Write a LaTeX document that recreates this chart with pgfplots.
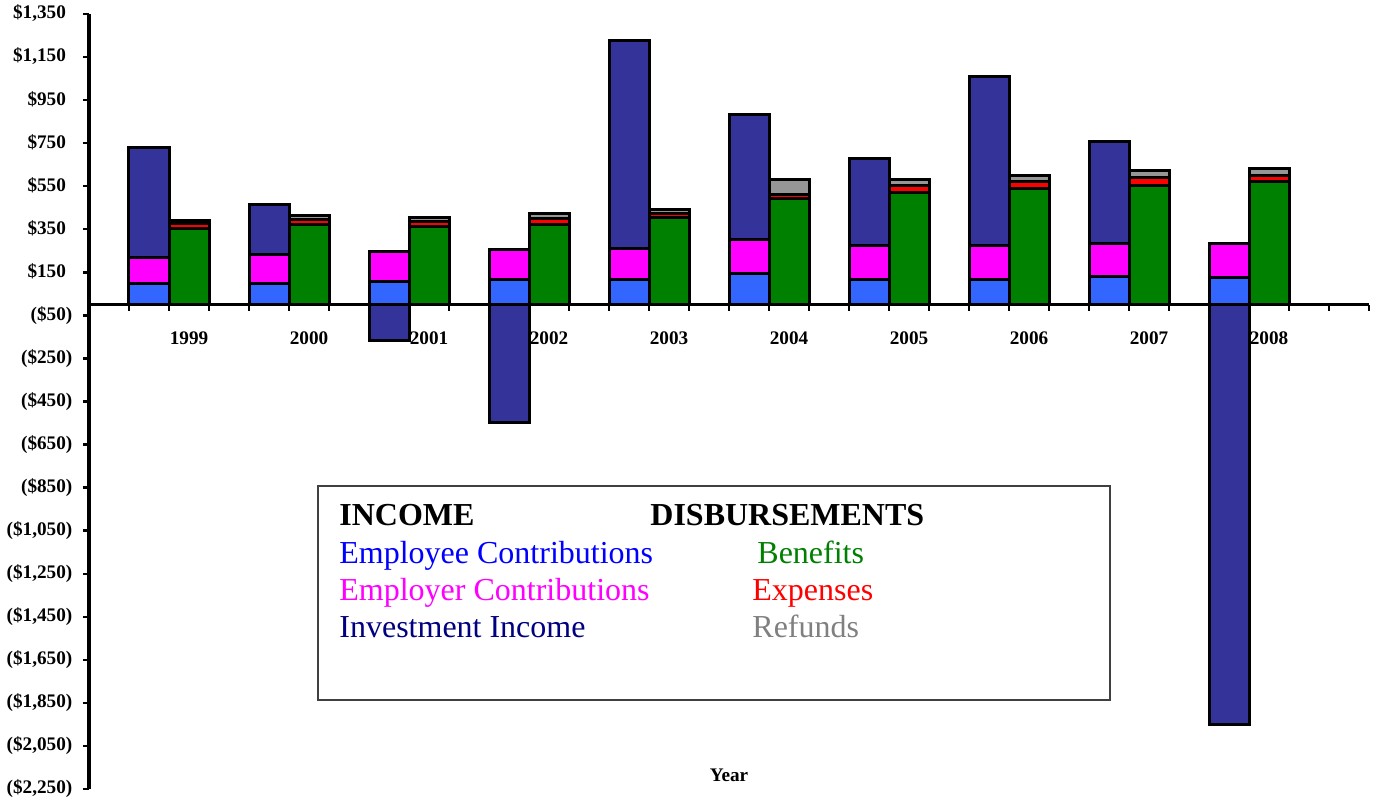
\documentclass[border=0pt]{standalone}
\usepackage{pgfplots}
\pgfplotsset{compat=1.18}
\usepackage{pgfplotstable}
\usepackage{fontspec}
\setmainfont{Liberation Serif}
\definecolor{empc}{HTML}{3366FF}
\definecolor{emprc}{HTML}{FF00FF}
\definecolor{invc}{HTML}{333399}
\definecolor{benc}{HTML}{008000}
\definecolor{expc}{HTML}{FF0000}
\definecolor{refc}{HTML}{969696}
\definecolor{emptxt}{HTML}{0000FF}
\definecolor{invtxt}{HTML}{000080}
\definecolor{reftxt}{HTML}{808080}

% income slot at 3i+1.5, disbursement slot at 3i+2.5
\pgfplotstableread{
x    emp  empr inv  ben  exp  ref
1.5  99   119  511  0    0    0
2.5  0    0    0    352  25   16
4.5  96   139  228  0    0    0
5.5  0    0    0    373  22   18
7.5  107  139  0    0    0    0
8.5  0    0    0    361  23   20
10.5 118  136  0    0    0    0
11.5 0    0    0    370  31   20
13.5 118  144  964  0    0    0
14.5 0    0    0    404  20   20
16.5 145  158  578  0    0    0
17.5 0    0    0    491  21   67
19.5 118  155  407  0    0    0
20.5 0    0    0    522  31   26
22.5 118  155  786  0    0    0
23.5 0    0    0    540  31   28
25.5 130  152  475  0    0    0
26.5 0    0    0    551  40   30
28.5 127  158  0    0    0    0
29.5 0    0    0    571  28   31
}\datatable

% negative investment income
\pgfplotstableread{
x    inv
7.5  -167
10.5 -548
28.5 -1952
}\negtable

\pgfplotsset{
  base/.style={scale only axis, width=640pt, height=387.5pt,
    xmin=0, xmax=32, ymin=-2250, ymax=1350},
  barsty/.style={draw=black, line width=1.5pt},
}

\begin{document}
\begin{tikzpicture}
\useasboundingbox (-44.5pt,-6.5pt) rectangle (645.5pt,394.5pt);

\begin{axis}[base, hide axis, ybar, bar width=20pt]
\addplot[barsty, fill=invc, bar shift=0pt] table[x=x,y=inv]{\negtable};
\end{axis}

\begin{axis}[base,
  axis x line*=middle, axis y line*=left,
  axis line style={line width=1.6pt, black},
  ybar stacked, bar width=20pt,
  xtick={1,...,32}, xticklabels={},
  ytick={-2250,-2050,...,1350},
  yticklabels={{(\$2,250)},{(\$2,050)},{(\$1,850)},{(\$1,650)},{(\$1,450)},{(\$1,250)},{(\$1,050)},{(\$850)},{(\$650)},{(\$450)},{(\$250)},{(\$50)},{\$150\phantom{)}},{\$350\phantom{)}},{\$550\phantom{)}},{\$750\phantom{)}},{\$950\phantom{)}},{\$1,150\phantom{)}},{\$1,350\phantom{)}}},
  tick style={black, line width=1.2pt},
  major tick length=3pt,
  tick align=outside,
  tick label style={font=\fontsize{9.6}{11}\selectfont\bfseries},
  yticklabel style={xshift=-1.8pt},
  extra x ticks={2.5,5.5,...,29.5},
  extra x tick labels={1999,2000,2001,2002,2003,2004,2005,2006,2007,2008},
  extra x tick style={major tick length=0pt, tick label style={anchor=center, yshift=-17pt, xshift=0pt}},
  xlabel={Year},
  x label style={at={(rel axis cs:0.5,0)}, anchor=center, yshift=7pt, font=\fontsize{9.6}{11}\selectfont\bfseries},
]
\addplot[barsty, fill=empc]  table[x=x,y=emp]{\datatable};
\addplot[barsty, fill=emprc] table[x=x,y=empr]{\datatable};
\addplot[barsty, fill=invc]  table[x=x,y=inv]{\datatable};
\addplot[barsty, fill=benc]  table[x=x,y=ben]{\datatable};
\addplot[barsty, fill=expc]  table[x=x,y=exp]{\datatable};
\addplot[barsty, fill=refc]  table[x=x,y=ref]{\datatable};
\end{axis}

\draw[line width=0.7pt, black!75] (114.5pt,44.5pt) rectangle (510.5pt,151.5pt);
\node[anchor=base west, inner sep=0pt] at (125pt,131.5pt) {\fontsize{16}{18}\selectfont\bfseries INCOME};
\node[anchor=base west, inner sep=0pt] at (280.5pt,131.5pt) {\fontsize{16}{18}\selectfont\bfseries DISBURSEMENTS};
\node[anchor=base west, inner sep=0pt, text=emptxt] at (125pt,112.7pt) {\fontsize{16}{18}\selectfont Employee Contributions};
\node[anchor=base west, inner sep=0pt, text=emprc] at (125pt,94.3pt) {\fontsize{16}{18}\selectfont Employer Contributions};
\node[anchor=base west, inner sep=0pt, text=invtxt] at (125pt,75.8pt) {\fontsize{16}{18}\selectfont Investment Income};
\node[anchor=base west, inner sep=0pt, text=benc] at (334pt,112.7pt) {\fontsize{16}{18}\selectfont Benefits};
\node[anchor=base west, inner sep=0pt, text=expc] at (331.5pt,94.3pt) {\fontsize{16}{18}\selectfont Expenses};
\node[anchor=base west, inner sep=0pt, text=reftxt] at (331.5pt,75.8pt) {\fontsize{16}{18}\selectfont Refunds};
\end{tikzpicture}
\end{document}
